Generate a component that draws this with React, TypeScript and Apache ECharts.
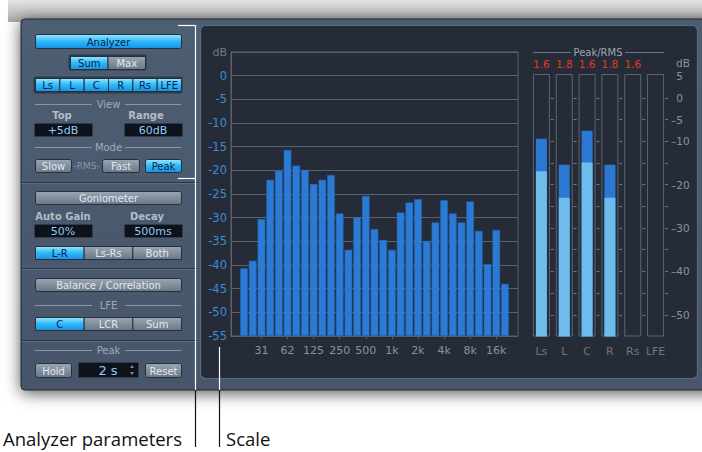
import React, { useEffect, useRef } from 'react';
import * as echarts from 'echarts';

const FONT = '"DejaVu Sans", sans-serif';

// ---- Analyzer: 1/3-octave bands ----
const bands = ['20', '25', '31', '40', '50', '62', '80', '100', '125', '160', '200', '250', '315', '400', '500', '630', '800', '1k', '1.25k', '1.6k', '2k', '2.5k', '3.15k', '4k', '5k', '6.3k', '8k', '10k', '12.5k', '16k', '20k'];
const bandLevels = [-40.7, -39.1, -30.3, -22.0, -20.1, -15.7, -19.0, -19.9, -22.9, -22.0, -21.0, -29.1, -36.8, -29.9, -25.4, -32.4, -34.7, -36.8, -28.9, -26.8, -26.1, -34.9, -31.0, -26.3, -29.1, -31.0, -26.6, -32.8, -39.8, -32.6, -44.0];
const freqTickLabels = ['31', '62', '125', '250', '500', '1k', '2k', '4k', '8k', '16k'];

// ---- Peak / RMS meters ----
const channels = ['Ls', 'L', 'C', 'R', 'Rs', 'LFE'];
const peakHold = ['1.6', '1.8', '1.6', '1.8', '1.6', ''];
const peakLevels = [-9.4, -15.4, -7.6, -15.4, null, null];
const rmsLevels = [-16.9, -23.0, -14.9, -23.0, null, null];
const meterTickDb = [0, -5, -10, -15, -20, -25, -30, -35, -40, -45, -50];
const meterLabelDb = [5, 0, -5, -10, -20, -30, -40, -50];

const FLOOR = -55;
const TOP = 5;
const METER_TOP = 5.5;
const toAxis = (db: number) => db - FLOOR;

const GRID_LINE = '#59616d';
const GRAY_TXT = '#8a929e';

const blueGrad = () =>
  new echarts.graphic.LinearGradient(0, 0, 0, 1, [
    { offset: 0, color: '#9ae6ff' },
    { offset: 0.45, color: '#33bdf9' },
    { offset: 1, color: '#1690e4' },
  ]);
const grayGrad = () =>
  new echarts.graphic.LinearGradient(0, 0, 0, 1, [
    { offset: 0, color: '#9aa6b3' },
    { offset: 1, color: '#6a7786' },
  ]);

function text(t: string, x: number, y: number, fill: string, font: string, align = 'center', z = 3) {
  return {
    type: 'text',
    z,
    x,
    y,
    style: { text: t, fill, font, textAlign: align, align, textVerticalAlign: 'middle', verticalAlign: 'middle' },
  };
}

function button(x: number, y: number, w: number, h: number, label: string, active: boolean, r = 2) {
  return [
    {
      type: 'rect',
      z: 1,
      shape: { x: x + 0.5, y: y + 0.5, width: w, height: h, r },
      style: { fill: active ? blueGrad() : grayGrad(), stroke: '#26303b', lineWidth: 1 },
    },
    text(label, x + w / 2 + 0.5, y + h / 2 + 1, active ? '#08244f' : '#e2e8ee', `10px ${FONT}`),
  ];
}

function field(x: number, y: number, w: number, h: number, label: string, size = 11) {
  return [
    {
      type: 'rect',
      z: 1,
      shape: { x: x + 0.5, y: y + 0.5, width: w, height: h, r: 1 },
      style: { fill: '#0e131b', stroke: '#323c48', lineWidth: 1 },
    },
    text(label, x + w / 2, y + h / 2 + 1, '#93caf1', `${size}px ${FONT}`),
  ];
}

function divider(y: number, title: string) {
  return [
    { type: 'line', z: 1, shape: { x1: 35, y1: y + 0.5, x2: 92, y2: y + 0.5 }, style: { stroke: '#8995a2', lineWidth: 1 } },
    { type: 'line', z: 1, shape: { x1: 125, y1: y + 0.5, x2: 181, y2: y + 0.5 }, style: { stroke: '#8995a2', lineWidth: 1 } },
    text(title, 108.5, y, '#a1abb7', `10px ${FONT}`),
  ];
}

function separator(y: number) {
  return [
    { type: 'line', z: 1, shape: { x1: 21, y1: y + 0.5, x2: 198, y2: y + 0.5 }, style: { stroke: '#2c3643', lineWidth: 1 } },
    { type: 'line', z: 1, shape: { x1: 21, y1: y + 1.5, x2: 198, y2: y + 1.5 }, style: { stroke: '#5d6d81', lineWidth: 1 } },
  ];
}

function segmented(x: number, y: number, w: number, h: number, labels: string[], activeIdx: number[]) {
  const out: any[] = [];
  const sw = w / labels.length;
  labels.forEach((l, i) => {
    out.push(...button(x + i * sw, y, sw, h, l, activeIdx.includes(i), 0));
  });
  return out;
}

function buildGraphics() {
  const els: any[] = [];
  // window frame / shadow
  els.push({
    type: 'rect', z: -10, shape: { x: 8, y: 0, width: 694, height: 22 },
    style: { fill: new echarts.graphic.LinearGradient(0, 0, 0, 1, [{ offset: 0, color: '#e4e4e4' }, { offset: 1, color: '#aaaaaa' }]) },
  });
  els.push({
    type: 'rect', z: -9, shape: { x: 21, y: 19, width: 700, height: 371, r: 4 },
    style: {
      fill: new echarts.graphic.LinearGradient(0, 0, 0, 1, [{ offset: 0, color: '#4e5e72' }, { offset: 1, color: '#46566a' }]),
      stroke: '#1f252d', lineWidth: 1, shadowBlur: 16, shadowColor: 'rgba(0,0,0,0.65)', shadowOffsetY: 3,
    },
  });
  // display box
  els.push({
    type: 'rect', z: -8, shape: { x: 200.5, y: 25.5, width: 497, height: 353, r: 5 },
    style: { fill: '#262c37', stroke: '#5a6a7f', lineWidth: 1.2 },
  });

  // left parameter panel
  els.push(...button(35, 34, 146, 14, 'Analyzer', true));
  els.push({ type: 'rect', z: 0, shape: { x: 68.5, y: 54.5, width: 78, height: 16, r: 2 }, style: { fill: '#2f3a47' } });
  els.push(...segmented(70, 56, 75, 13, ['Sum', 'Max'], [0]));
  els.push({ type: 'rect', z: 0, shape: { x: 33.5, y: 76.5, width: 149, height: 17, r: 2 }, style: { fill: '#2f3a47' } });
  els.push(...segmented(35, 78, 146, 13, ['Ls', 'L', 'C', 'R', 'Rs', 'LFE'], [0, 1, 2, 3, 4, 5]));
  els.push(...divider(104, 'View'));
  els.push(text('Top', 62, 115.5, '#b3bcc7', `bold 10px ${FONT}`));
  els.push(text('Range', 146, 115.5, '#b3bcc7', `bold 10px ${FONT}`));
  els.push(...field(34, 123, 58, 13, '+5dB'));
  els.push(...field(124, 123, 58, 13, '60dB'));
  els.push(...divider(147, 'Mode'));
  els.push(...button(35, 159, 36, 13, 'Slow', false));
  els.push(text('-RMS-', 86.5, 166, '#8f99a6', `9px ${FONT}`));
  els.push(...button(102, 159, 37, 13, 'Fast', false));
  els.push(...button(145, 159, 36, 13, 'Peak', true));
  els.push(...separator(182));

  els.push(...button(35, 191, 146, 13, 'Goniometer', false));
  els.push(text('Auto Gain', 63, 216, '#b3bcc7', `bold 10px ${FONT}`));
  els.push(text('Decay', 147, 216, '#b3bcc7', `bold 10px ${FONT}`));
  els.push(...field(34, 224, 58, 13, '50%'));
  els.push(...field(124, 224, 58, 13, '500ms'));
  els.push(...segmented(35, 246, 146, 13, ['L-R', 'Ls-Rs', 'Both'], [0]));
  els.push(...separator(268));

  els.push(...button(35, 278, 146, 13, 'Balance / Correlation', false));
  els.push(...divider(305, 'LFE'));
  els.push(...segmented(35, 317, 146, 13, ['C', 'LCR', 'Sum'], [0]));
  els.push(...separator(340));

  els.push(...divider(350, 'Peak'));
  els.push(...button(35, 363, 36, 14, 'Hold', false));
  els.push(...field(78, 362, 60, 15, '2 s', 13));
  els.push({ type: 'polygon', z: 3, shape: { points: [[130, 368], [134, 368], [132, 365]] }, style: { fill: '#7d8894' } });
  els.push({ type: 'polygon', z: 3, shape: { points: [[130, 372], [134, 372], [132, 375]] }, style: { fill: '#7d8894' } });
  els.push(...button(145, 363, 36, 14, 'Reset', false));

  // Peak/RMS header
  els.push(text('Peak/RMS', 598, 52, '#9aa3ae', `10px ${FONT}`));
  els.push({ type: 'line', z: 1, shape: { x1: 533, y1: 52.5, x2: 571, y2: 52.5 }, style: { stroke: '#6b7480', lineWidth: 1 } });
  els.push({ type: 'line', z: 1, shape: { x1: 625, y1: 52.5, x2: 664, y2: 52.5 }, style: { stroke: '#6b7480', lineWidth: 1 } });
  els.push(text('dB', 676, 63, GRAY_TXT, `10.5px ${FONT}`, 'left'));

  // callout lines
  const white = { stroke: '#ffffff', lineWidth: 1.2 };
  const black = { stroke: '#111111', lineWidth: 1.2 };
  els.push({ type: 'line', z: 50, shape: { x1: 178, y1: 25.5, x2: 195.5, y2: 25.5 }, style: white });
  els.push({ type: 'line', z: 50, shape: { x1: 178, y1: 178.5, x2: 195.5, y2: 178.5 }, style: white });
  els.push({ type: 'line', z: 50, shape: { x1: 195.5, y1: 25, x2: 195.5, y2: 390 }, style: white });
  els.push({ type: 'line', z: 50, shape: { x1: 195.5, y1: 390, x2: 195.5, y2: 447 }, style: black });
  els.push({ type: 'line', z: 50, shape: { x1: 219.5, y1: 347, x2: 219.5, y2: 390 }, style: white });
  els.push({ type: 'line', z: 50, shape: { x1: 219.5, y1: 390, x2: 219.5, y2: 447 }, style: black });
  els.push(text('Analyzer parameters', 3, 438, '#111111', `18.5px "Open Sans", sans-serif`, 'left'));
  els.push(text('Scale', 226, 438, '#111111', `18.5px "Open Sans", sans-serif`, 'left'));
  return els;
}

export default function App() {
  const ref = useRef<HTMLDivElement>(null);
  useEffect(() => {
    if (!ref.current) return;
    const chart = echarts.init(ref.current, undefined, { renderer: 'svg' });

    const freqCats = ['', ...bands, ''];
    const freqData = [null, ...bandLevels.map(toAxis), null];
    const showFreq = (_i: number, v: string) => freqTickLabels.includes(v);

    const meterGrid = { left: 530, top: 74, width: 137, height: 262.5 };
    const slot = meterGrid.width / channels.length;

    const meterYAxes = channels.map((_c, k) => ({
      gridIndex: 1,
      type: 'value',
      min: 0,
      max: toAxis(METER_TOP),
      position: 'right',
      offset: -((channels.length - 1 - k) * slot + 2),
      axisLine: { show: false },
      splitLine: { show: false },
      axisTick: {
        show: true,
        length: 3,
        customValues: meterTickDb.map(toAxis),
        lineStyle: { color: '#6f7885', width: 1 },
      },
      axisLabel: {
        show: k === channels.length - 1,
        customValues: meterLabelDb.map(toAxis),
        margin: 6,
        align: 'left',
        color: GRAY_TXT,
        fontFamily: FONT,
        fontSize: 10.5,
        formatter: (v: number) => {
          const db = Math.round(v + FLOOR);
          return db < 0 ? '\u2013' + -db : '\u2002' + db;
        },
      },
    }));

    const option: any = {
      animation: false,
      backgroundColor: '#ffffff',
      textStyle: { fontFamily: FONT },
      graphic: { elements: buildGraphics() },
      grid: [
        { left: 231, top: 52, width: 287, height: 284, show: true, borderColor: GRID_LINE, borderWidth: 1, backgroundColor: 'transparent' },
        { ...meterGrid, show: false },
      ],
      xAxis: [
        {
          gridIndex: 0,
          type: 'category',
          data: freqCats,
          axisLine: { show: true, lineStyle: { color: GRID_LINE } },
          axisTick: { show: true, interval: showFreq, alignWithLabel: true, length: 3, lineStyle: { color: GRID_LINE } },
          axisLabel: { interval: showFreq, color: GRAY_TXT, fontSize: 11, fontFamily: FONT, margin: 9 },
        },
        {
          gridIndex: 1,
          type: 'category',
          data: channels,
          position: 'bottom',
          axisLine: { show: false },
          axisTick: { show: false },
          axisLabel: { interval: 0, color: '#6c7583', fontSize: 11, fontFamily: FONT, margin: 9 },
        },
        {
          gridIndex: 1,
          type: 'category',
          data: channels,
          position: 'top',
          axisLine: { show: false },
          axisTick: { show: false },
          axisLabel: {
            interval: 0,
            color: '#e23a20',
            fontSize: 10.5,
            fontFamily: FONT,
            margin: 5,
            formatter: (_v: string, i: number) => peakHold[i],
          },
        },
      ],
      yAxis: [
        {
          gridIndex: 0,
          type: 'value',
          min: 0,
          max: toAxis(TOP),
          interval: 5,
          axisLine: { show: true, lineStyle: { color: GRID_LINE } },
          axisTick: { show: false },
          splitLine: { show: true, lineStyle: { color: GRID_LINE, width: 1 } },
          axisLabel: {
            margin: 4,
            formatter: (v: number) => (v === toAxis(TOP) ? '{u|dB}' : '{n|' + Math.round(v + FLOOR) + '}'),
            rich: {
              u: { color: '#6f7885', fontSize: 11, fontFamily: FONT },
              n: { color: '#3a8dd6', fontSize: 11.5, fontFamily: FONT },
            },
          },
        },
        ...meterYAxes,
      ],
      series: [
        {
          type: 'bar',
          xAxisIndex: 0,
          yAxisIndex: 0,
          data: freqData,
          barCategoryGap: '13%',
          itemStyle: { color: '#2a7ad6', borderColor: '#2366b4', borderWidth: 0.5 },
        },
        {
          type: 'bar',
          xAxisIndex: 1,
          yAxisIndex: 1,
          data: channels.map(() => toAxis(METER_TOP)),
          barWidth: 17,
          itemStyle: { color: 'rgba(0,0,0,0)', borderColor: '#5b6471', borderWidth: 1 },
        },
        {
          type: 'bar',
          xAxisIndex: 2,
          yAxisIndex: 1,
          data: peakLevels.map((v) => (v == null ? null : toAxis(v))),
          barWidth: 11,
          barGap: '-100%',
          itemStyle: { color: '#2b78d3' },
        },
        {
          type: 'bar',
          xAxisIndex: 2,
          yAxisIndex: 1,
          data: rmsLevels.map((v) => (v == null ? null : toAxis(v))),
          barWidth: 11,
          barGap: '-100%',
          itemStyle: { color: '#6dbcec' },
        },
      ],
    };
    chart.setOption(option);
    return () => chart.dispose();
  }, []);

  return <div ref={ref} style={{ position: 'absolute', left: 0, top: 0, width: 702, height: 452 }} />;
}
